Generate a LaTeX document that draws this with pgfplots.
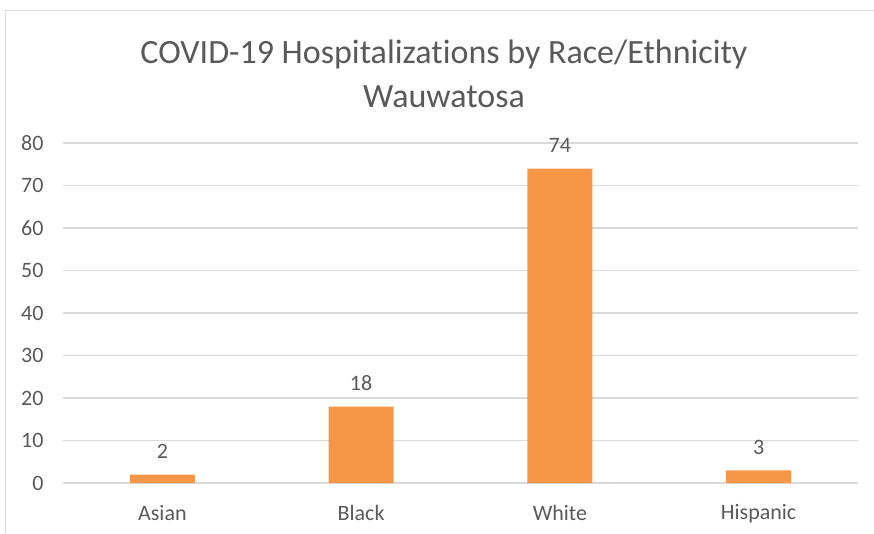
\documentclass[border=0pt]{standalone}
\usepackage{pgfplots}
\pgfplotsset{compat=1.18}
\usepackage{fontspec}
\setmainfont{Carlito}[RawFeature={-liga}]
\definecolor{barorange}{HTML}{F79646}
\definecolor{textgray}{HTML}{595959}
\definecolor{gridgray}{HTML}{D9D9D9}
\begin{document}
\begin{tikzpicture}[x=1pt,y=1pt]
\useasboundingbox (0,0) rectangle (874,533);
\draw[gridgray, line width=1.5pt] (5.5,0) -- (5.5,522.5) -- (874,522.5);
\node[font=\fontsize{34}{40}\selectfont, text=textgray] at (444,479) {COVID-19 Hospitalizations by Race/Ethnicity};
\node[font=\fontsize{34}{40}\selectfont, text=textgray] at (444,436) {Wauwatosa};
\begin{axis}[
  at={(63pt,50pt)}, anchor=south west,
  scale only axis, width=795pt, height=340pt,
  xmin=-0.5, xmax=3.5, ymin=0, ymax=80,
  ybar, bar width=65pt,
  axis line style={draw=none},
  tick style={draw=none},
  ymajorgrids, grid style={gridgray, line width=1.2pt},
  ytick={0,10,...,80},
  xtick={0,1,2,3},
  xticklabels={Asian,Black,White,Hispanic},
  /pgf/number format/assume math mode=true,
  yticklabel style={font=\fontsize{22}{24}\selectfont, text=textgray, anchor=east, xshift=-16pt},
  xticklabel style={font=\fontsize{22}{24}\selectfont, text=textgray, anchor=center, yshift=-26pt},
  nodes near coords,
  every node near coord/.append style={font=\fontsize{22}{24}\selectfont, text=textgray, anchor=center, yshift=23pt},
]
\addplot[fill=barorange, draw=none] coordinates {(0,2) (1,18) (2,74) (3,3)};
\end{axis}
\end{tikzpicture}
\end{document}
